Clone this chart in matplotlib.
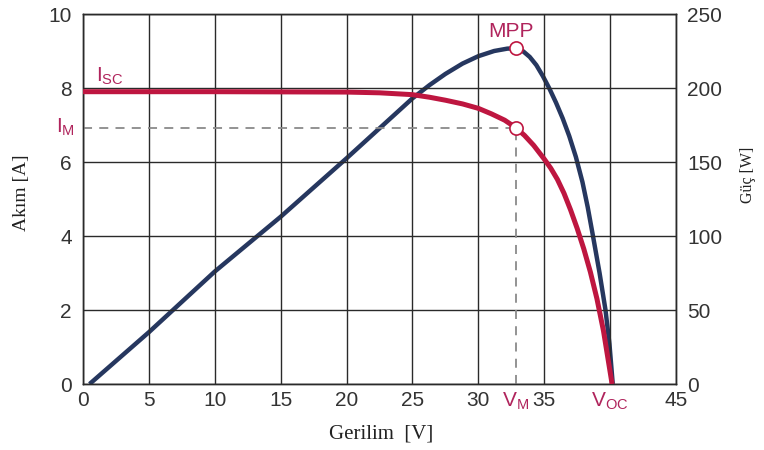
import numpy as np
import matplotlib
matplotlib.use("Agg")
from matplotlib import pyplot as plt
from matplotlib import transforms

# values
volt_i = [0, 10, 20, 22.5, 25, 26.3, 27.5, 28.8, 30, 31, 32, 32.83, 33.5, 34.2, 35,
          35.5, 36.0, 36.5, 37.0, 37.5, 38.0, 38.5, 39.0, 39.5, 40.15]
current = [7.9, 7.9, 7.89, 7.87, 7.82, 7.75, 7.67, 7.57, 7.45, 7.3, 7.13, 6.93, 6.72, 6.45, 6.08,
           5.83, 5.53, 5.155, 4.705, 4.205, 3.655, 3.03, 2.305, 1.43, 0]

volt_p = [0.5, 5, 10, 15, 20, 25, 26.3, 27.5, 28.8, 30, 31.2, 32.2, 32.83, 33.4, 33.9, 34.4,
          34.9, 35.4, 35.9, 36.4, 36.9, 37.4, 37.9, 38.3, 38.7, 39.2, 39.65, 39.95, 40.2]
power = [0, 35, 76, 113, 152.5, 193, 202, 209.5, 216.5, 221.5, 225, 226.6, 226.8, 224.8, 221, 215.5,
         208, 199.5, 190, 179.5, 167.5, 153.5, 136.5, 119.5, 100, 75, 50, 27, 0]

v_mpp = 32.83
i_mpp = 6.93
p_mpp = 226.8

x_ticks = [0, 5, 10, 15, 20, 25, 30, v_mpp, 35, 40, 45]
x_labels = ["0", "5", "10", "15", "20", "25", "30", r"$\mathregular{V_M}$", "35",
            r"$\mathregular{V_{OC}}$", "45"]
yl_ticks = [0, 2, 4, 6, 8, 10]
yr_ticks = [0, 50, 100, 150, 200, 250]

RED = "#be1640"
BLUE = "#26375f"
LBL = "#b0245c"
GRID = "#2a2a2a"

plt.rcParams['font.family'] = ['Liberation Sans', 'DejaVu Sans']

fig = plt.figure(figsize=(7.64, 4.5), dpi=100)
ax = fig.add_axes([83 / 764, 1 - 384 / 450, 593 / 764, 370 / 450])
ax2 = ax.twinx()

ax.set_xlim(0, 45)
ax.set_ylim(0, 10)
ax2.set_ylim(0, 250)

ax.set_xticks(x_ticks)
ax.set_xticklabels(x_labels)
ax.set_yticks(yl_ticks)
ax2.set_yticks(yr_ticks)

ax.tick_params(axis='x', length=0, pad=5, labelsize=15, colors='#333333')
ax.tick_params(axis='y', length=0, pad=8, labelsize=15, colors='#333333')
ax2.tick_params(axis='y', length=0, pad=8, labelsize=15, colors='#333333')
for lab in ax.get_xticklabels():
    if lab.get_text() not in ("0", "5", "10", "15", "20", "25", "30", "35", "45"):
        lab.set_color(LBL)

ax.grid(True, color=GRID, lw=1.0)
# no grid line at V_M
ax.xaxis.get_gridlines()[x_ticks.index(v_mpp)].set_visible(False)
for a in (ax, ax2):
    for s in a.spines.values():
        s.set_color(GRID)
        s.set_linewidth(1.0)

# dashed guides to the MPP
ax.plot([0, v_mpp], [i_mpp, i_mpp], color="#8a8a8a", lw=1.3, dashes=(5, 4), zorder=2)
ax.plot([v_mpp, v_mpp], [0, i_mpp], color="#8a8a8a", lw=1.3, dashes=(5, 4), zorder=2)

ax.plot(volt_i, current, color=RED, lw=3.6, solid_capstyle='butt', solid_joinstyle='round', zorder=3)
ax2.plot(volt_p, power, color=BLUE, lw=3.2, solid_capstyle='butt', solid_joinstyle='round', zorder=3)

ax.plot([v_mpp], [i_mpp], 'o', ms=9.5, mfc='white', mec=RED, mew=1.2, zorder=5)
ax2.plot([v_mpp], [p_mpp], 'o', ms=9.5, mfc='white', mec=RED, mew=1.2, zorder=5)

ax.set_zorder(ax2.get_zorder() + 1)
ax.patch.set_visible(False)

ax.text(1.0, 8.17, r"$\mathregular{I_{SC}}$", color=LBL, fontsize=15, ha='left', va='baseline')
trans = transforms.blended_transform_factory(ax.transAxes, ax.transData)
ax.text(-0.013, i_mpp, r"$\mathregular{I_M}$", color=LBL, fontsize=15, ha='right', va='center',
        transform=trans)
ax2.text(32.5, 234.5, "MPP", color=LBL, fontsize=15, ha='center', va='baseline')

ax.set_xlabel("Gerilim  [V]", family='Liberation Serif', fontsize=15, color='#222222')
ax.xaxis.set_label_coords(0.502, -0.135)
ax.xaxis.label.set_va('center')
ax.set_ylabel("Akım [A]", family='Liberation Serif', fontsize=14, color='#222222', va='center')
ax.yaxis.set_label_coords(-0.104, 0.516)
ax2.set_ylabel("Güç [W]", family='Liberation Serif', fontsize=11.5, color='#222222', va='center')
ax2.yaxis.set_label_coords(1.121, 0.565)

fig.savefig("out.png", dpi=100)
